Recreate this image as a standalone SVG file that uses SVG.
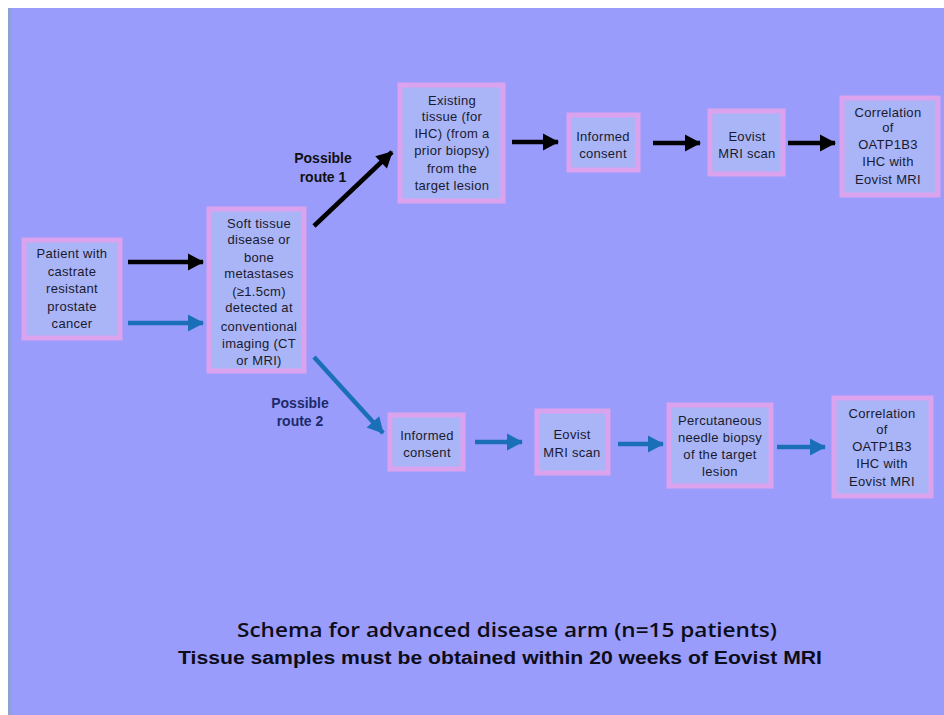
<svg xmlns="http://www.w3.org/2000/svg" width="944" height="715" viewBox="0 0 944 715">
<style>
.bg{fill:#9a9cfb}
.box{fill:#a9b5f7;stroke:#dba2ee;stroke-width:5}
.t{font-family:"Liberation Sans",Arial,sans-serif;font-size:13px;fill:#1a1a2e;text-anchor:middle;letter-spacing:0.3px}
.lbl{font-family:"Liberation Sans",Arial,sans-serif;font-size:14px;font-weight:bold;text-anchor:middle}
.k{stroke:#000;stroke-width:4.5;fill:none}
.b{stroke:#1a6fb8;stroke-width:4.5;fill:none}
</style>
<defs>
<marker id="ak" markerUnits="userSpaceOnUse" markerWidth="20" markerHeight="20" refX="18" refY="10" orient="auto" viewBox="0 0 20 20"><path d="M3,1.5 L19,10 L3,18.5 Z" fill="#000"/></marker>
<marker id="ab" markerUnits="userSpaceOnUse" markerWidth="20" markerHeight="20" refX="18" refY="10" orient="auto" viewBox="0 0 20 20"><path d="M3,1.5 L19,10 L3,18.5 Z" fill="#1a6fb8"/></marker>
</defs>
<rect width="944" height="715" fill="#ffffff"/>
<rect x="8" y="8" width="936" height="707" class="bg"/>
<rect x="8" y="8" width="3" height="707" fill="#8fa0d8"/>

<g id="connectors">
<line class="k" x1="128" y1="262" x2="203" y2="262" marker-end="url(#ak)"/>
<line class="b" x1="128" y1="323" x2="203" y2="323" marker-end="url(#ab)"/>
<line class="k" x1="314" y1="226" x2="392" y2="152" marker-end="url(#ak)"/>
<line class="b" x1="314" y1="357" x2="383" y2="433" marker-end="url(#ab)"/>
<line class="k" x1="512" y1="142" x2="558" y2="142" marker-end="url(#ak)"/>
<line class="k" x1="653" y1="143" x2="700" y2="143" marker-end="url(#ak)"/>
<line class="k" x1="788" y1="143" x2="835" y2="143" marker-end="url(#ak)"/>
<line class="b" x1="475" y1="442" x2="522" y2="442" marker-end="url(#ab)"/>
<line class="b" x1="618" y1="444" x2="663" y2="444" marker-end="url(#ab)"/>
<line class="b" x1="777" y1="447" x2="825" y2="447" marker-end="url(#ab)"/>
</g>

<g id="label-route1"><text class="lbl" fill="#111" x="323" y="163">Possible</text><text class="lbl" fill="#111" x="323" y="182">route 1</text></g>
<g id="label-route2"><text class="lbl" fill="#1b2b6b" x="300" y="408">Possible</text><text class="lbl" fill="#1b2b6b" x="300" y="426">route 2</text></g>

<g id="patient">
<rect class="box" x="24" y="240" width="96" height="98"/>
<text class="t" x="72" y="258">Patient with</text>
<text class="t" x="72" y="276">castrate</text>
<text class="t" x="72" y="293">resistant</text>
<text class="t" x="72" y="311">prostate</text>
<text class="t" x="72" y="328">cancer</text>
</g>

<g id="softtissue">
<rect class="box" x="209" y="209" width="95" height="162"/>
<text class="t" x="259" y="228">Soft tissue</text>
<text class="t" x="259" y="244">disease  or</text>
<text class="t" x="259" y="262">bone</text>
<text class="t" x="259" y="278">metastases</text>
<text class="t" x="259" y="296">(≥1.5cm)</text>
<text class="t" x="259" y="312">detected at</text>
<text class="t" x="259" y="331">conventional</text>
<text class="t" x="259" y="348">imaging (CT</text>
<text class="t" x="259" y="365">or MRI)</text>
</g>

<g id="existing">
<rect class="box" x="400" y="85" width="103" height="116"/>
<text class="t" x="452" y="105">Existing</text>
<text class="t" x="452" y="121">tissue (for</text>
<text class="t" x="452" y="138">IHC) (from  a</text>
<text class="t" x="452" y="155">prior biopsy)</text>
<text class="t" x="452" y="173">from the</text>
<text class="t" x="452" y="190">target lesion</text>
</g>

<g id="consent1">
<rect class="box" x="569" y="115" width="69" height="55"/>
<text class="t" x="603" y="141">Informed</text>
<text class="t" x="603" y="158">consent</text>
</g>

<g id="eovist1">
<rect class="box" x="710" y="111" width="73" height="63"/>
<text class="t" x="747" y="141">Eovist</text>
<text class="t" x="747" y="158">MRI scan</text>
</g>

<g id="correlation1">
<rect class="box" x="842" y="98" width="96" height="97"/>
<text class="t" x="888" y="117">Correlation</text>
<text class="t" x="888" y="132">of</text>
<text class="t" x="888" y="149">OATP1B3</text>
<text class="t" x="888" y="166">IHC with</text>
<text class="t" x="888" y="184">Eovist MRI</text>
</g>

<g id="consent2">
<rect class="box" x="390" y="415" width="73" height="54"/>
<text class="t" x="427" y="440">Informed</text>
<text class="t" x="427" y="457">consent</text>
</g>

<g id="eovist2">
<rect class="box" x="537" y="411" width="71" height="62"/>
<text class="t" x="572" y="439">Eovist</text>
<text class="t" x="572" y="457">MRI scan</text>
</g>

<g id="biopsy">
<rect class="box" x="669" y="405" width="102" height="81"/>
<text class="t" x="720" y="425">Percutaneous</text>
<text class="t" x="720" y="442">needle biopsy</text>
<text class="t" x="720" y="459">of the target</text>
<text class="t" x="720" y="476">lesion</text>
</g>

<g id="correlation2">
<rect class="box" x="834" y="398" width="97" height="98"/>
<text class="t" x="882" y="418">Correlation</text>
<text class="t" x="882" y="434">of</text>
<text class="t" x="882" y="451">OATP1B3</text>
<text class="t" x="882" y="468">IHC with</text>
<text class="t" x="882" y="486">Eovist MRI</text>
</g>

<g id="caption">
<text x="237" y="637" font-family="'Open Sans','Noto Sans',sans-serif" font-size="20" font-weight="600" fill="#0d0d1a" textLength="540" lengthAdjust="spacingAndGlyphs">Schema for advanced disease arm (n=15 patients)</text>
<text x="178" y="664" font-family="'Liberation Sans',Arial,sans-serif" font-size="18" font-weight="bold" fill="#0d0d1a" textLength="644" lengthAdjust="spacingAndGlyphs">Tissue samples must be obtained within 20 weeks of Eovist MRI</text>
</g>
</svg>
